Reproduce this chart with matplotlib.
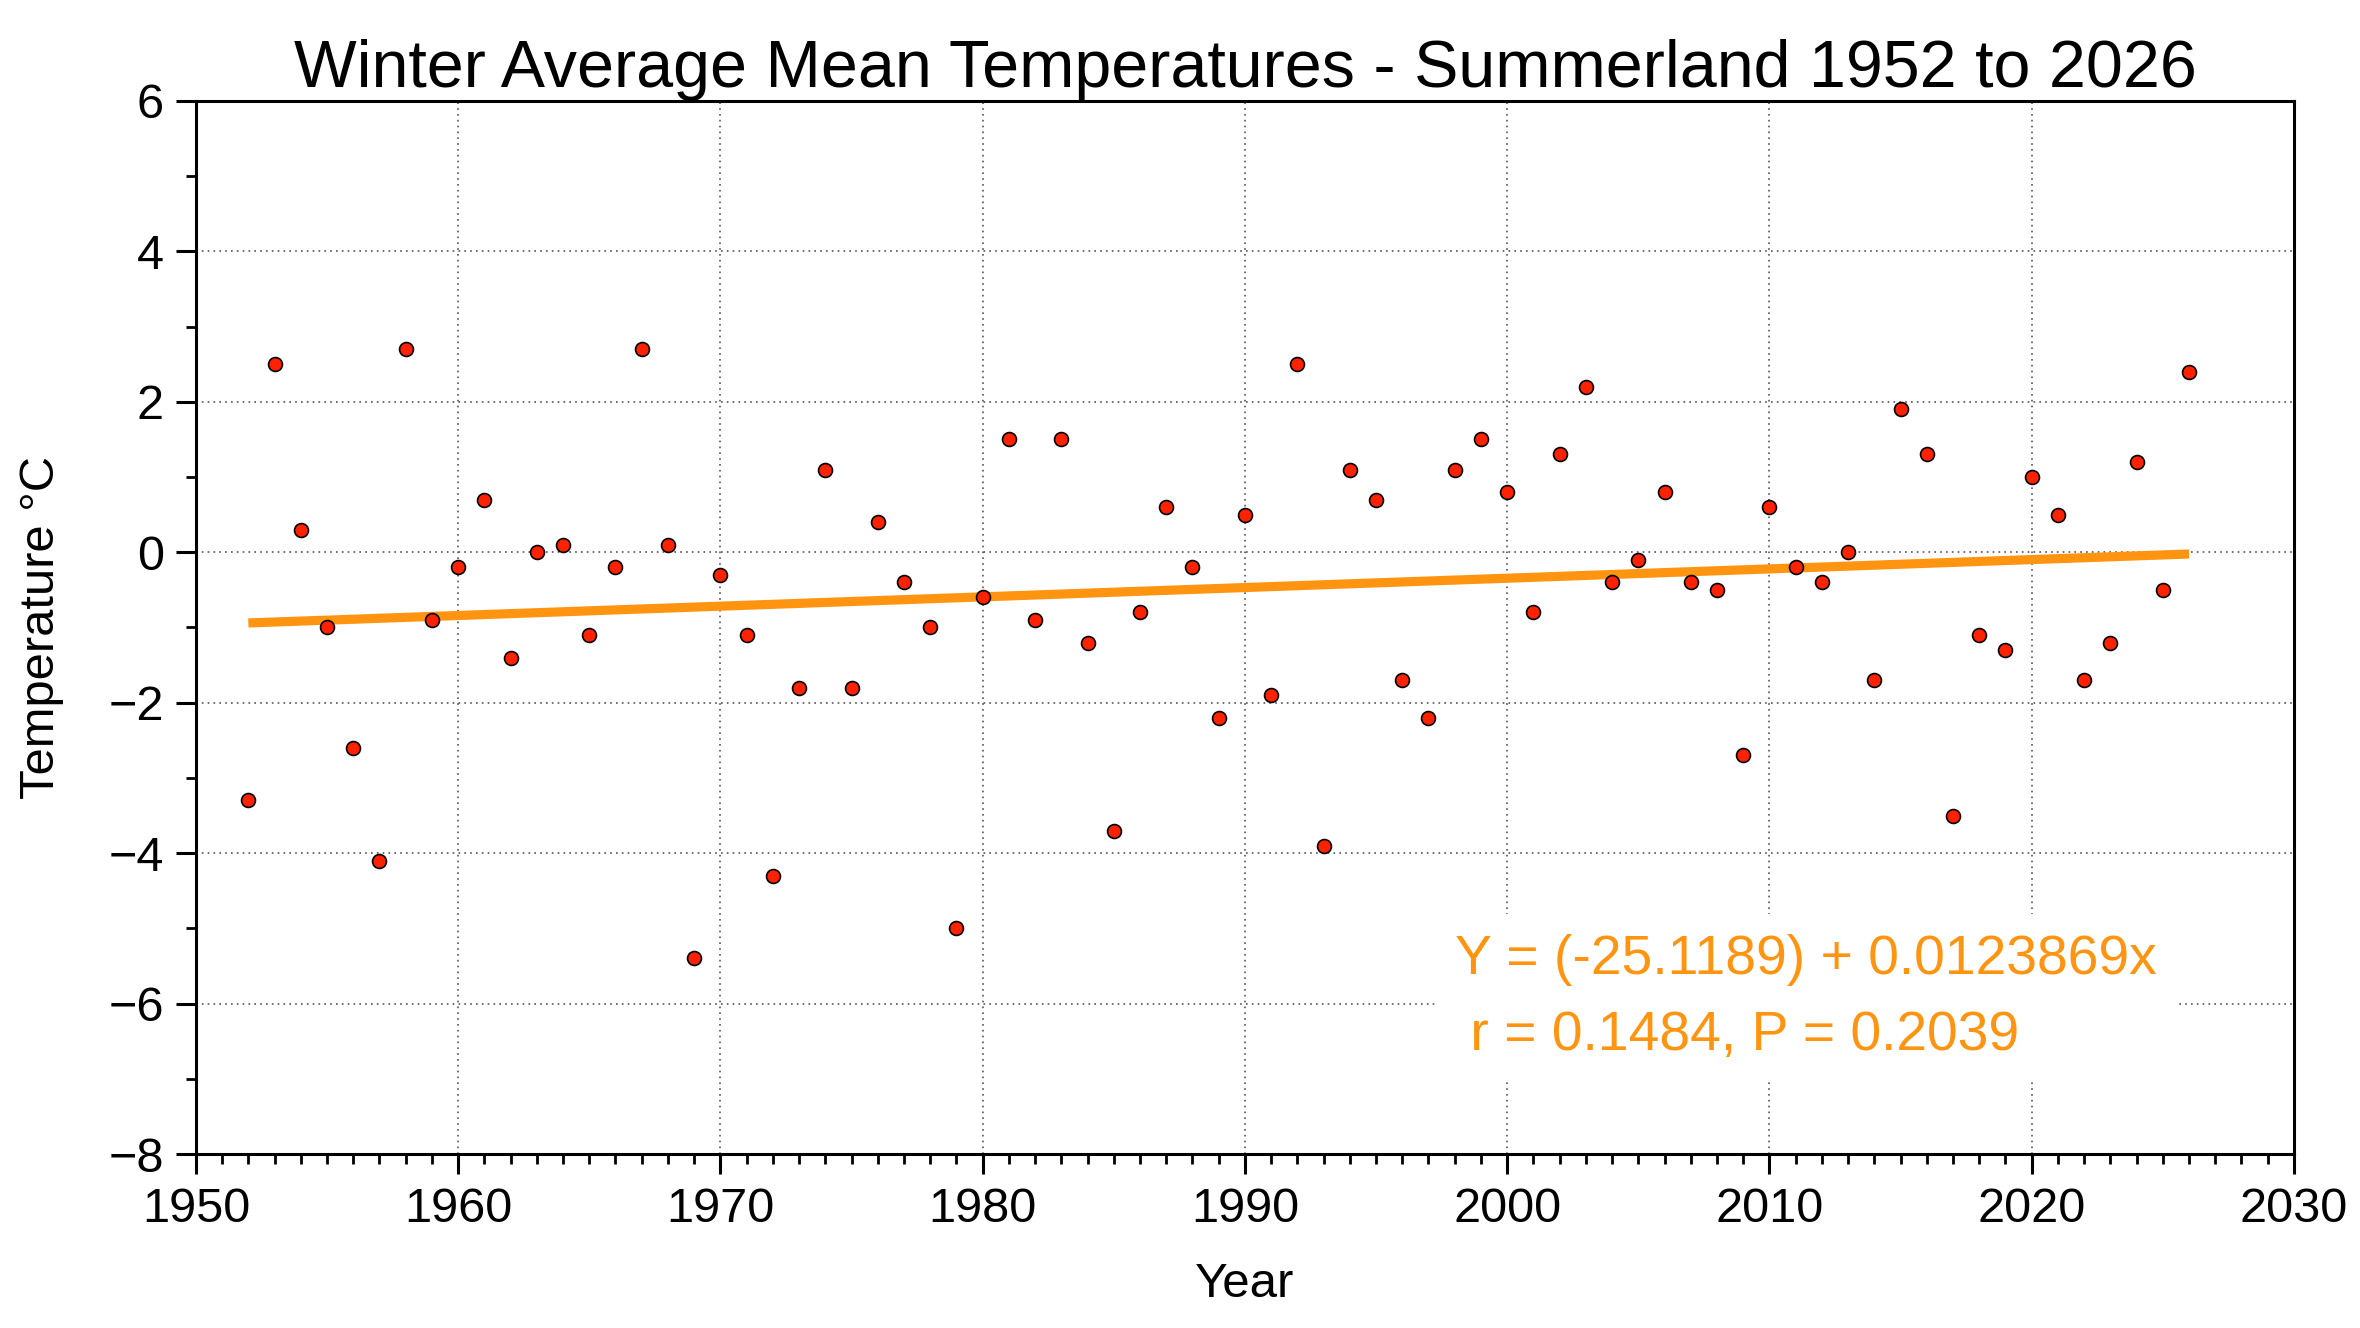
import matplotlib
matplotlib.use("Agg")
import matplotlib.pyplot as plt
from matplotlib.ticker import MultipleLocator
import numpy as np

plt.rcParams['font.family'] = ['Liberation Sans', 'DejaVu Sans']

years = list(range(1952, 2027))
temps = [-3.3, 2.5, 0.3, -1.0, -2.6, -4.1, 2.7, -0.9, -0.2, 0.7,
         -1.4, 0.0, 0.1, -1.1, -0.2, 2.7, 0.1, -5.4, -0.3, -1.1,
         -4.3, -1.8, 1.1, -1.8, 0.4, -0.4, -1.0, -5.0, -0.6, 1.5,
         -0.9, 1.5, -1.2, -3.7, -0.8, 0.6, -0.2, -2.2, 0.5, -1.9,
         2.5, -3.9, 1.1, 0.7, -1.7, -2.2, 1.1, 1.5, 0.8, -0.8,
         1.3, 2.2, -0.4, -0.1, 0.8, -0.4, -0.5, -2.7, 0.6, -0.2,
         -0.4, 0.0, -1.7, 1.9, 1.3, -3.5, -1.1, -1.3, 1.0, 0.5,
         -1.7, -1.2, 1.2, -0.5, 2.4]
intercept = -25.1189
slope = 0.0123869
eq_text = "Y = (-25.1189) + 0.0123869x\n r = 0.1484, P = 0.2039"

fig = plt.figure(figsize=(11.8, 6.64), dpi=200)
ax = fig.add_axes([0.083, 0.131, 0.889, 0.793])

yrs = np.array(years, dtype=float)
fit_x = np.array([yrs.min(), yrs.max()])
ax.plot(fit_x, intercept + slope * fit_x, color='#FF9410', lw=3.3, zorder=3,
        solid_capstyle='butt')
ax.plot(yrs, temps, 'o', ms=5.0, mfc='#FF2200', mec='black', mew=0.6, zorder=4)

ax.set_xlim(1950, 2030)
ax.set_ylim(-8, 6)
ax.xaxis.set_major_locator(MultipleLocator(10))
ax.xaxis.set_minor_locator(MultipleLocator(1))
ax.yaxis.set_major_locator(MultipleLocator(2))
ax.yaxis.set_minor_locator(MultipleLocator(1))
ax.grid(True, which='major', linestyle=(0, (1, 2.5)), color='#555555', lw=0.6)
ax.set_axisbelow(True)

for s in ax.spines.values():
    s.set_linewidth(1.1)
ax.tick_params(axis='both', which='major', direction='out', length=7.2, width=1.1,
               labelsize=17.5, top=False, right=False)
ax.tick_params(axis='both', which='minor', direction='out', length=3.6, width=1.0,
               top=False, right=False)
ax.tick_params(axis='x', which='major', pad=4.5)
ax.tick_params(axis='y', which='major', pad=4.3)

ax.set_title("Winter Average Mean Temperatures - Summerland 1952 to 2026",
             fontsize=23.9, pad=3)
ax.set_xlabel("Year", fontsize=17.7, labelpad=11)
ax.set_ylabel("Temperature °C", fontsize=17.6, labelpad=16)

ax.text(1998.0, -5.92, eq_text, color='#FF9410', fontsize=19.9,
        ha='left', va='center', linespacing=1.6, zorder=5,
        bbox=dict(facecolor='white', edgecolor='none', pad=7))

fig.savefig("out.png", dpi=200)
